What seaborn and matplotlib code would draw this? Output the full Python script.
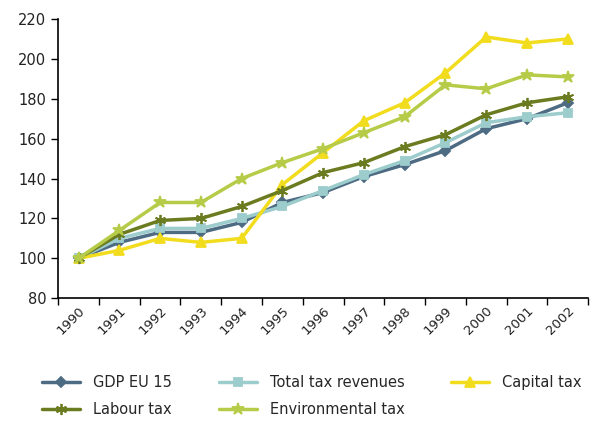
import matplotlib
matplotlib.use("Agg")
import matplotlib.pyplot as plt
import seaborn as sns
import pandas as pd

# values (1990 = 100)
years = list(range(1990, 2003))
gdp = [100, 108, 113, 113, 118, 128, 133, 141, 147, 154, 165, 170, 178]
total_tax = [100, 110, 115, 115, 120, 126, 134, 142, 149, 158, 168, 171, 173]
capital_tax = [100, 104, 110, 108, 110, 137, 153, 169, 178, 193, 211, 208, 210]
labour_tax = [100, 112, 119, 120, 126, 134, 143, 148, 156, 162, 172, 178, 181]
env_tax = [100, 114, 128, 128, 140, 148, 155, 163, 171, 187, 185, 192, 191]

series = [
    ("GDP EU 15", gdp, "#4d6b82", "D", 5),
    ("Total tax revenues", total_tax, "#9ccccc", "s", 6),
    ("Capital tax", capital_tax, "#f2dc1e", "^", 7),
    ("Labour tax", labour_tax, "#6b7b20", (6, 2, 0), 8),
    ("Environmental tax", env_tax, "#b6cc48", "*", 9),
]

sns.set_style("white")
plt.rcParams["font.family"] = ["DejaVu Sans"]

fig = plt.figure(figsize=(5.94, 4.23), dpi=100)
ax = fig.add_axes([0.098, 0.295, 0.892, 0.66])

for name, vals, col, mk, ms in series:
    df = pd.DataFrame({"year": years, "value": vals})
    sns.lineplot(data=df, x="year", y="value", ax=ax, color=col, marker=mk,
                 markersize=ms, markeredgecolor=col, markeredgewidth=1.3,
                 linewidth=2.5, label=name)

ax.set_xlim(1989.5, 2002.5)
ax.set_ylim(80, 220)
ax.set_yticks(range(80, 221, 20))
ax.set_xticks(years)
ax.set_xticklabels([str(y) for y in years], rotation=45, ha="right",
                   rotation_mode="anchor")
ax.set_xticks([y + 0.5 for y in range(1989, 2003)], minor=True)
ax.tick_params(axis="x", which="major", length=0, pad=4, labelsize=9.5,
               colors="#222222")
ax.tick_params(axis="x", which="minor", length=5, width=1, direction="out",
               color="black", bottom=True)
ax.tick_params(axis="y", length=5, width=1, direction="out", color="black",
               left=True, labelsize=10.5, colors="#222222")
ax.set_xlabel("")
ax.set_ylabel("")
for s in ["top", "right"]:
    ax.spines[s].set_visible(False)
for s in ["left", "bottom"]:
    ax.spines[s].set_color("black")
    ax.spines[s].set_linewidth(1.2)

handles, labels = ax.get_legend_handles_labels()
ax.get_legend().remove()
# row-wise order like the reference: matplotlib fills legend columns first
order = [0, 3, 1, 4, 2]
fig.legend([handles[i] for i in order], [labels[i] for i in order],
           loc="lower center", bbox_to_anchor=(0.525, -0.018),
           ncol=3, frameon=False, fontsize=10.5, handlelength=2.6,
           columnspacing=3.2, handletextpad=0.9, labelspacing=0.85)

fig.savefig("out.png", dpi=100)
